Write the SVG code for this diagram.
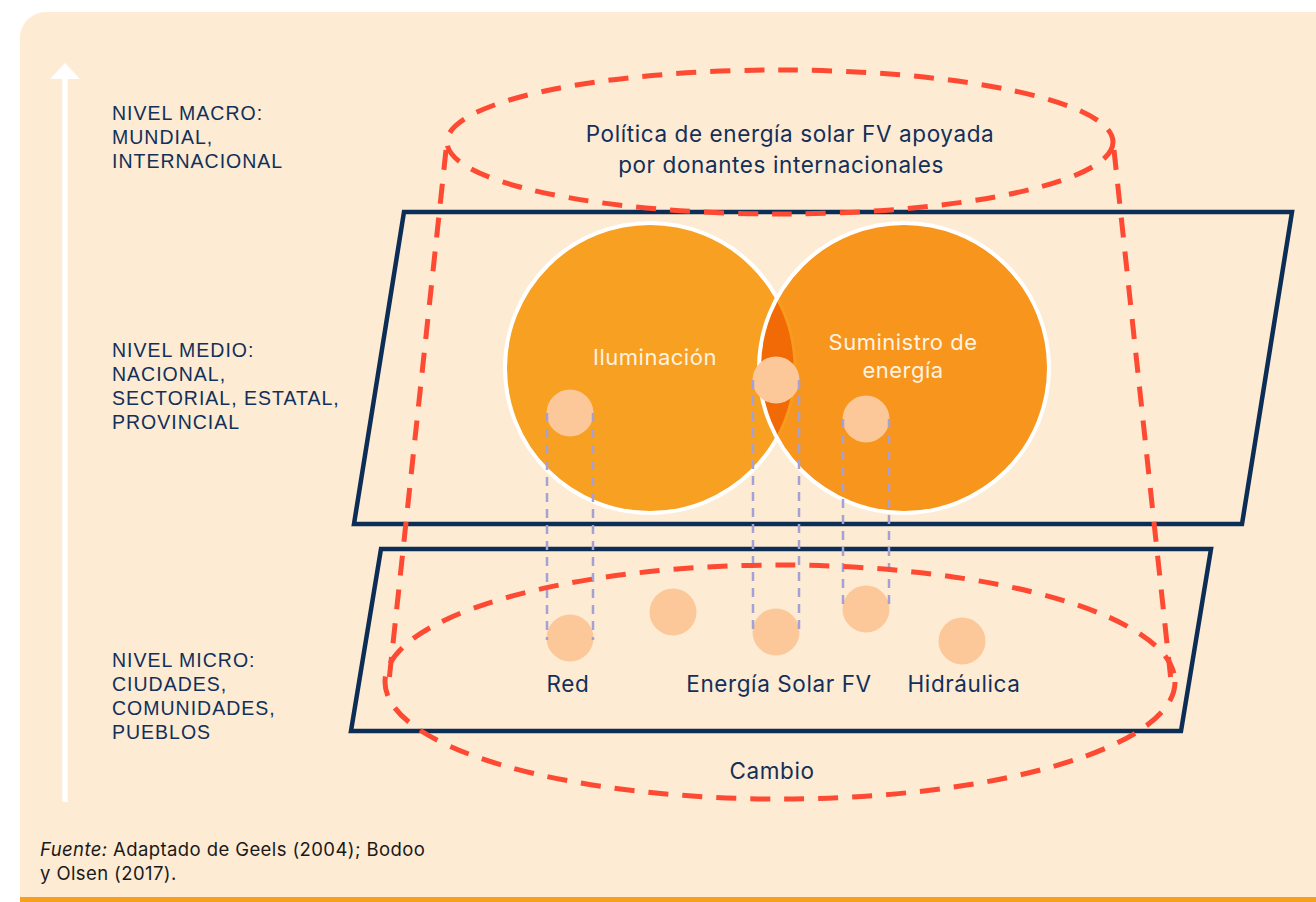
<svg xmlns="http://www.w3.org/2000/svg" width="1316" height="902" viewBox="0 0 1316 902">
<defs>
<style>
.lvl{font-family:"Liberation Sans",Arial,sans-serif;font-size:19.5px;letter-spacing:1px;fill:#12305a}
.lab{font-family:Inter,"Noto Sans",sans-serif;font-size:22.5px;letter-spacing:0.6px;fill:#12305a}
.wlab{font-family:Inter,"Noto Sans",sans-serif;font-size:22px;letter-spacing:0.5px;fill:#fff3e3}
.red{fill:none;stroke:#ff4a33;stroke-width:5;stroke-dasharray:20 14}
.plane{fill:none;stroke:#0c2d55;stroke-width:4.5;stroke-linejoin:miter}
.small{fill:#fcc899}
.lav{stroke:#a5a1d4;stroke-width:2.5;stroke-dasharray:9 7;fill:none}
.foot{font-family:Inter,"Noto Sans",sans-serif;font-size:18.5px;letter-spacing:0.4px;fill:#1a1a1a}
</style>
</defs>
<rect x="20" y="12" width="1330" height="940" rx="26" fill="#fdebd3"/>
<rect x="20" y="897" width="1300" height="5" fill="#f6a01e"/>
<g id="axis">
<line x1="65" y1="76" x2="65" y2="802" stroke="#ffffff" stroke-width="5.5"/>
<polygon points="65,63 80,79 50,79" fill="#ffffff"/>
</g>
<g id="level-macro">
<text class="lvl" x="112" y="120">NIVEL MACRO:</text>
<text class="lvl" x="112" y="144">MUNDIAL,</text>
<text class="lvl" x="112" y="168">INTERNACIONAL</text>
</g>
<g id="level-medio">
<text class="lvl" x="112" y="357">NIVEL MEDIO:</text>
<text class="lvl" x="112" y="381">NACIONAL,</text>
<text class="lvl" x="112" y="405">SECTORIAL, ESTATAL,</text>
<text class="lvl" x="112" y="429">PROVINCIAL</text>
</g>
<g id="level-micro">
<text class="lvl" x="112" y="667">NIVEL MICRO:</text>
<text class="lvl" x="112" y="691">CIUDADES,</text>
<text class="lvl" x="112" y="715">COMUNIDADES,</text>
<text class="lvl" x="112" y="739">PUEBLOS</text>
</g>
<g id="plane-meso">
<polygon class="plane" points="404,212 1292,212 1242,524 354,524"/>
</g>
<g id="plane-micro">
<polygon class="plane" points="381,549 1211,549 1181,731 351,731"/>
</g>
<g id="regime-circles">
<circle cx="650" cy="368" r="145" fill="#f7a021" stroke="#ffffff" stroke-width="4"/>
<circle cx="904" cy="368" r="145" fill="#f8951d"/>
<path d="M777,298 A145,145 0 0,1 777,438 A145,145 0 0,1 777,298 Z" fill="#f26a05"/>
<path d="M777,298 A145,145 0 0,1 777,438" fill="none" stroke="#f79c1f" stroke-width="3"/>
<circle cx="904" cy="368" r="145" fill="none" stroke="#ffffff" stroke-width="4"/>
<text class="wlab" x="655" y="365" text-anchor="middle">Iluminación</text>
<text class="wlab" x="903" y="350" text-anchor="middle">Suministro de</text>
<text class="wlab" x="903" y="378" text-anchor="middle">energía</text>
</g>
<g id="niches">
<circle class="small" cx="570" cy="413" r="23.5"/>
<circle class="small" cx="776" cy="380" r="23.5"/>
<circle class="small" cx="866" cy="419" r="23.5"/>
<circle class="small" cx="570" cy="638" r="23.5"/>
<circle class="small" cx="673" cy="612" r="23.5"/>
<circle class="small" cx="776" cy="632" r="23.5"/>
<circle class="small" cx="866" cy="609" r="23.5"/>
<circle class="small" cx="962" cy="641" r="23.5"/>
</g>
<g id="connectors">
<line class="lav" x1="547" y1="413" x2="547" y2="640"/>
<line class="lav" x1="593" y1="413" x2="593" y2="640"/>
<line class="lav" x1="753" y1="380" x2="753" y2="632"/>
<line class="lav" x1="799" y1="380" x2="799" y2="632"/>
<line class="lav" x1="843" y1="419" x2="843" y2="609"/>
<line class="lav" x1="889" y1="419" x2="889" y2="609"/>
</g>
<g id="landscape">
<ellipse class="red" cx="780" cy="142" rx="333" ry="72"/>
<line class="red" x1="446" y1="150" x2="388" y2="690"/>
<line class="red" x1="1114" y1="150" x2="1172" y2="690"/>
<ellipse class="red" cx="780" cy="682" rx="395" ry="117"/>
<text class="lab" x="790" y="142" text-anchor="middle">Política de energía solar FV apoyada</text>
<text class="lab" x="781" y="173" text-anchor="middle">por donantes internacionales</text>
<text class="lab" x="772" y="779" text-anchor="middle">Cambio</text>
</g>
<g id="niche-labels">
<text class="lab" x="568" y="692" text-anchor="middle">Red</text>
<text class="lab" x="779" y="692" text-anchor="middle">Energía Solar FV</text>
<text class="lab" x="964" y="692" text-anchor="middle">Hidráulica</text>
</g>
<g id="source">
<text class="foot" x="40" y="856"><tspan font-style="italic">Fuente:</tspan> Adaptado de Geels (2004); Bodoo</text>
<text class="foot" x="40" y="880">y Olsen (2017).</text>
</g>
</svg>
